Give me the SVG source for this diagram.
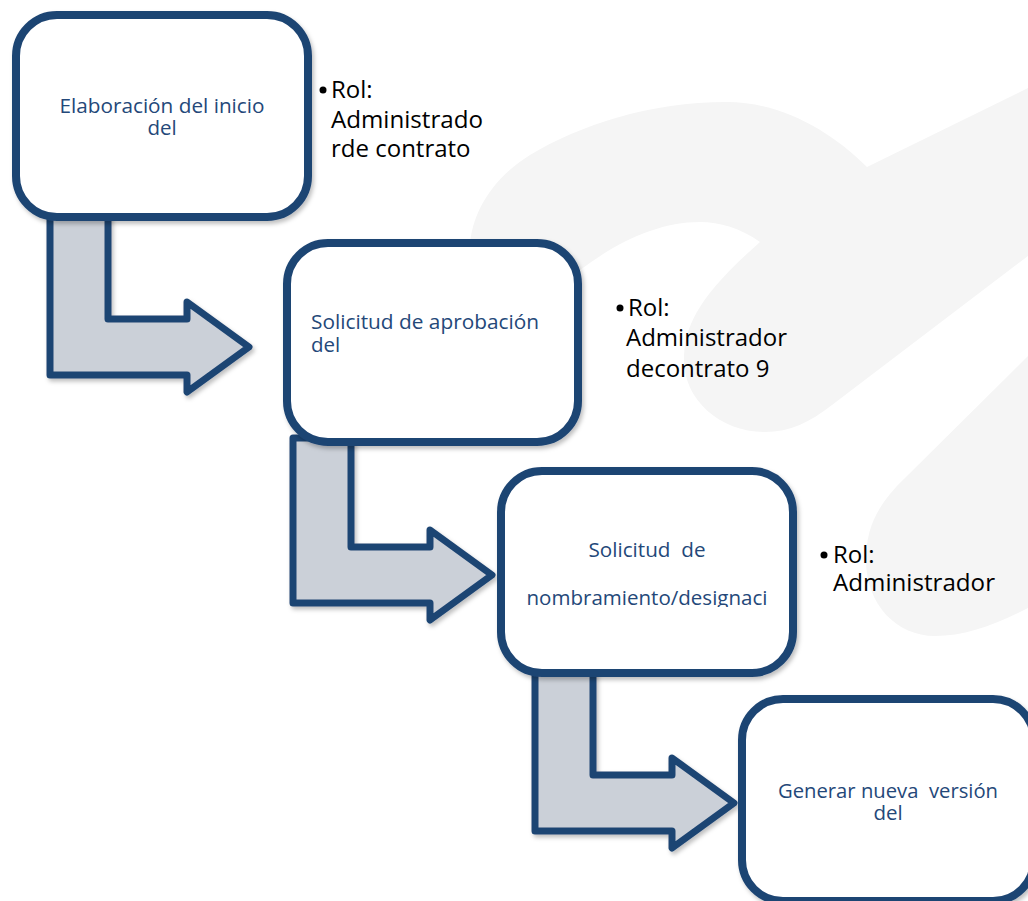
<svg xmlns="http://www.w3.org/2000/svg" width="1028" height="901" viewBox="0 0 1028 901">
  <defs>
    <style>
      .box { fill: #ffffff; stroke: #1f4573; stroke-width: 8; }
      .arrow { fill: #cbd0d8; stroke: #1f4573; stroke-width: 7; stroke-linejoin: round; }
      .btext { font-family: "Open Sans", "Noto Sans", "Liberation Sans", sans-serif; font-size: 20.5px; fill: #244879; }
      .role { font-family: "Open Sans", "Noto Sans", "Liberation Sans", sans-serif; font-size: 24px; fill: #000000; }
      .wm { fill: #f5f5f5; }
    </style>
    <filter id="sh" x="-10%" y="-10%" width="125%" height="125%">
      <feDropShadow dx="2" dy="3" stdDeviation="2" flood-color="#000000" flood-opacity="0.25"/>
    </filter>
    <clipPath id="clip3">
      <rect x="500" y="470" width="294" height="137"/>
    </clipPath>
  </defs>

  <rect width="1028" height="901" fill="#ffffff"/>

  <g id="watermark">
    <path class="wm" d="M 470 300 L 470 245 C 472 215 490 180 530 155 C 580 125 650 102 727 102 C 780 102 830 130 867 167 L 1028 88 L 1028 256 L 832 405 C 810 422 790 432 765 432 C 720 432 684 400 684 360 C 684 325 700 295 760 242 C 740 228 720 222 700 222 C 660 222 620 240 580 270 L 580 300 Z"/>
    <path class="wm" d="M 1028 356 L 905 478 C 880 502 866 525 866 560 C 866 605 897 636 935 636 C 965 636 995 625 1028 608 Z"/>
  </g>

  <g id="connectors" filter="url(#sh)">
    <path class="arrow" d="M 50 210 L 108 210 L 108 319 L 187 319 L 187 302 L 249 347 L 187 392 L 187 375 L 50 375 Z"/>
    <path class="arrow" d="M 293 438 L 351 438 L 351 547 L 430 547 L 430 530 L 492 575 L 430 620 L 430 603 L 293 603 Z"/>
    <path class="arrow" d="M 535 666 L 593 666 L 593 775 L 672 775 L 672 758 L 734 803 L 672 848 L 672 831 L 535 831 Z"/>
  </g>

  <g id="node1">
    <rect class="box" x="16" y="15" width="292" height="202" rx="41" ry="41" filter="url(#sh)"/>
    <text class="btext" x="162" y="113" text-anchor="middle" textLength="205" lengthAdjust="spacingAndGlyphs">Elaboración del inicio</text>
    <text class="btext" x="162" y="135" text-anchor="middle">del</text>
  </g>

  <g id="role1">
    <circle cx="323" cy="90" r="3.5" fill="#000000"/>
    <text class="role" x="331" y="98">Rol:</text>
    <text class="role" x="331" y="127.5" textLength="152" lengthAdjust="spacingAndGlyphs">Administrado</text>
    <text class="role" x="331" y="157">rde contrato</text>
  </g>

  <g id="node2">
    <rect class="box" x="287" y="243" width="291" height="199" rx="41" ry="41" filter="url(#sh)"/>
    <text class="btext" x="311" y="329" textLength="228" lengthAdjust="spacingAndGlyphs">Solicitud de aprobación</text>
    <text class="btext" x="311" y="352">del</text>
  </g>

  <g id="role2">
    <circle cx="620" cy="308" r="3.5" fill="#000000"/>
    <text class="role" x="628" y="316">Rol:</text>
    <text class="role" x="626" y="346" textLength="161" lengthAdjust="spacingAndGlyphs">Administrador</text>
    <text class="role" x="626" y="377">decontrato 9</text>
  </g>

  <g id="node3">
    <rect class="box" x="501" y="471" width="292" height="202" rx="41" ry="41" filter="url(#sh)"/>
    <text class="btext" x="647" y="557" text-anchor="middle" xml:space="preserve" textLength="117" lengthAdjust="spacingAndGlyphs">Solicitud  de</text>
    <text class="btext" x="647" y="605" text-anchor="middle" clip-path="url(#clip3)" textLength="241" lengthAdjust="spacingAndGlyphs">nombramiento/designaci</text>
  </g>

  <g id="role3">
    <circle cx="824" cy="555" r="3.5" fill="#000000"/>
    <text class="role" x="833" y="563">Rol:</text>
    <text class="role" x="833" y="591" textLength="162" lengthAdjust="spacingAndGlyphs">Administrador</text>
  </g>

  <g id="node4">
    <rect class="box" x="742" y="699" width="292" height="202" rx="41" ry="41" filter="url(#sh)"/>
    <text class="btext" x="888" y="798" text-anchor="middle" xml:space="preserve" textLength="220" lengthAdjust="spacingAndGlyphs">Generar nueva  versión</text>
    <text class="btext" x="888" y="820" text-anchor="middle">del</text>
  </g>
</svg>
